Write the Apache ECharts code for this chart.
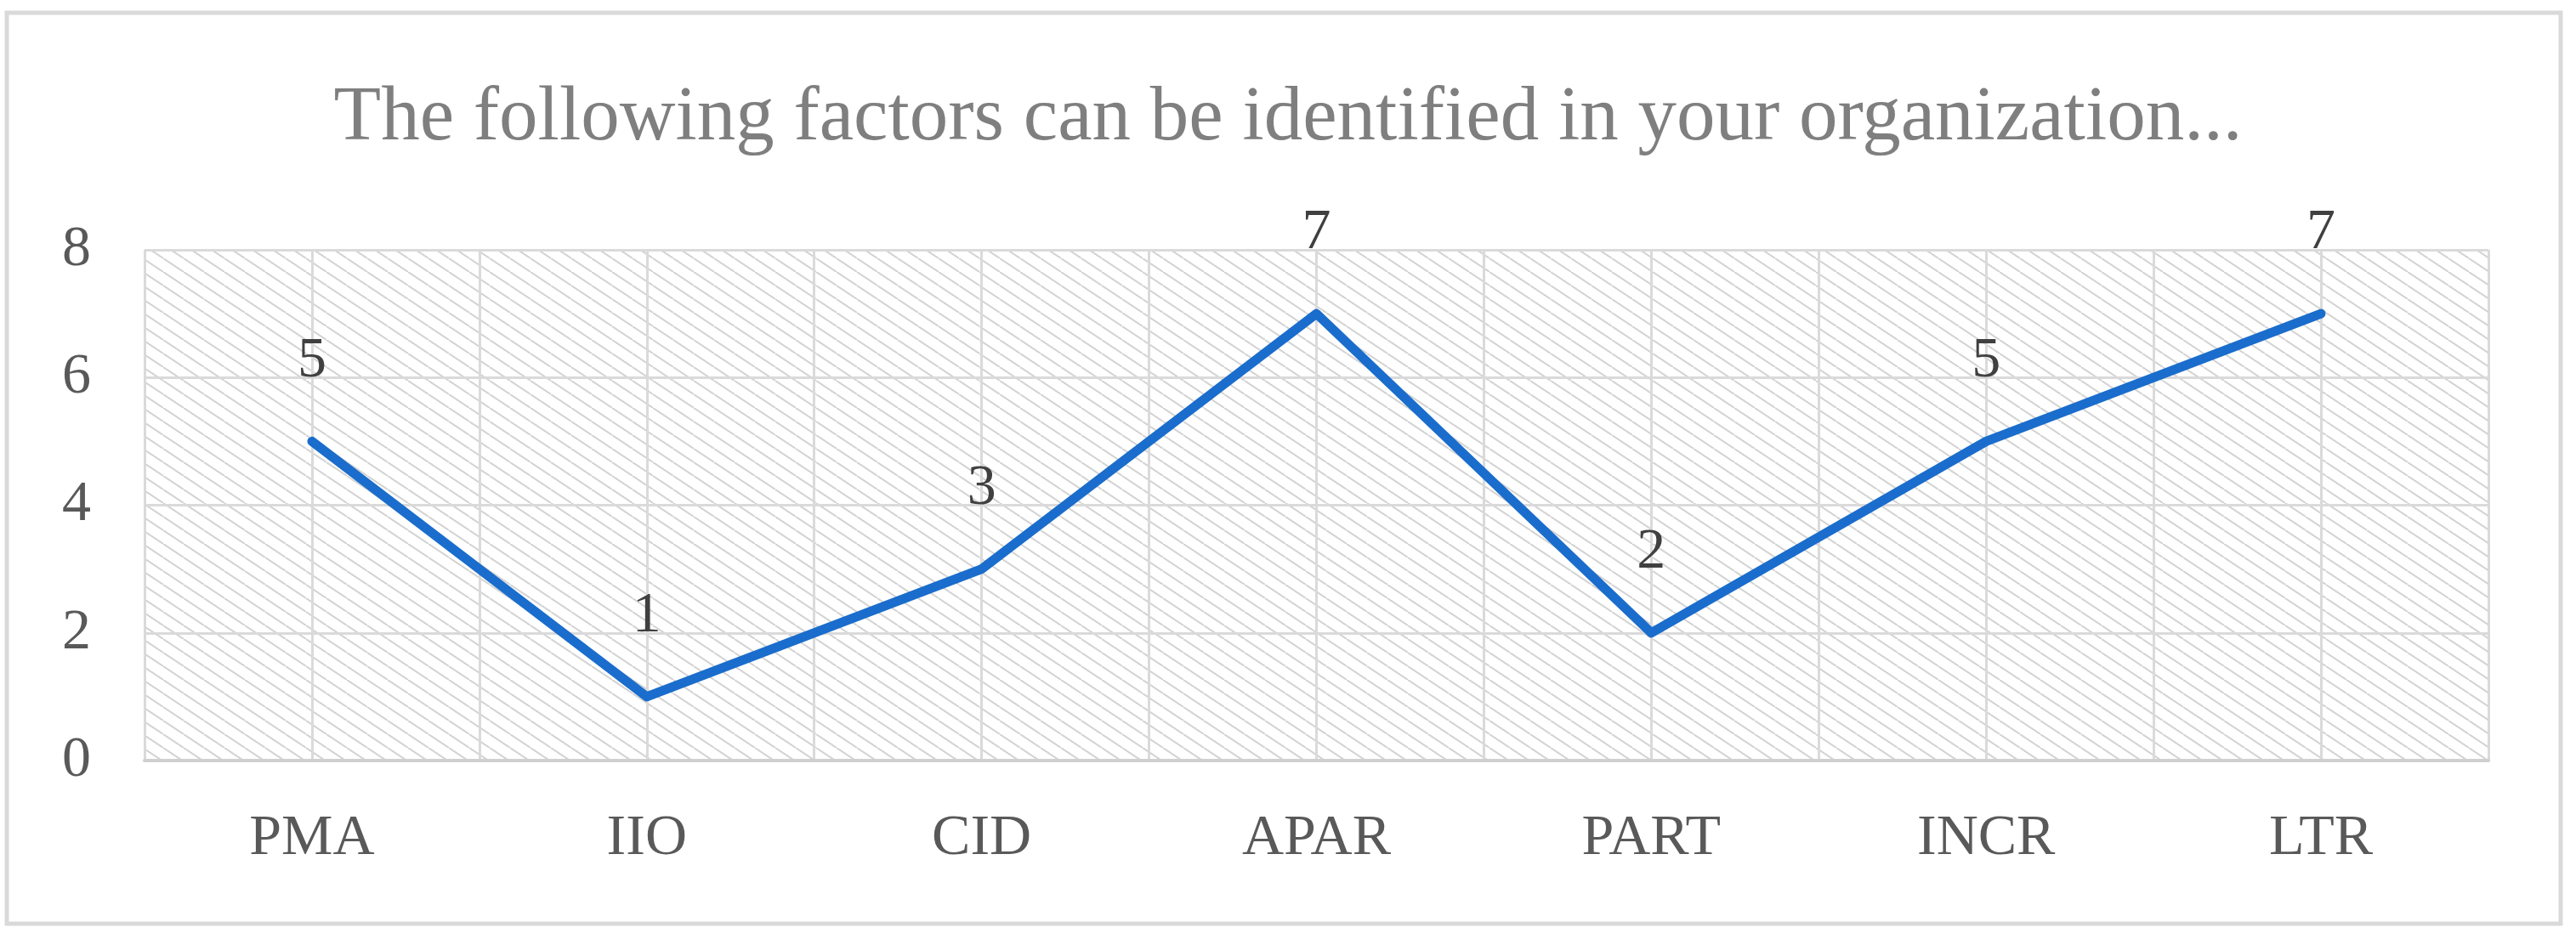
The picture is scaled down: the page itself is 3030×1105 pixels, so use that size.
<!DOCTYPE html>
<html>
<head>
<meta charset="utf-8">
<script src="https://cdn.jsdelivr.net/npm/echarts@6/dist/echarts.min.js"></script>
<style>
  html, body { margin: 0; padding: 0; background: #fff; }
  #chart { width: 3030px; height: 1105px; }
</style>
</head>
<body>
<div id="chart"></div>
<script>
// factors on the x axis
const categories = ['PMA', 'IIO', 'CID', 'APAR', 'PART', 'INCR', 'LTR'];
// number of answers per factor
const counts = [5, 1, 3, 7, 2, 5, 7];
const titleText = 'The following factors can be identified in your organization...';

const serif = '"Liberation Serif", "DejaVu Serif", serif';

// diagonal hatch used as plot background
const hatchTile = () => {
    const c = document.createElement('canvas');
    c.width = 24;
    c.height = 16;
    const g = c.getContext('2d');
    g.fillStyle = '#ffffff';
    g.fillRect(0, 0, 24, 16);
    g.strokeStyle = '#d3d3d3';
    g.lineWidth = 2;
    g.beginPath();
    for (const dx of [-24, 0, 24]) {
        g.moveTo(dx, 0);
        g.lineTo(dx + 24, 16);
    }
    g.stroke();
    return c;
};

const myChart = echarts.init(document.getElementById('chart'));
const option = {
    backgroundColor: '#ffffff',
    animation: false,
    title: {
        text: titleText,
        left: 'center',
        top: 90,
        textStyle: {
            fontFamily: serif,
            fontWeight: 'normal',
            fontSize: 91,
            color: '#7f7f7f'
        }
    },
    graphic: [{
        type: 'rect',
        shape: { x: 8, y: 15, width: 3004, height: 1072 },
        style: { fill: 'none', stroke: '#d9d9d9', lineWidth: 5 },
        silent: true
    }],
    grid: {
        left: 170,
        right: 103,
        top: 294,
        bottom: 210,
        show: true,
        borderWidth: 0,
        backgroundColor: { image: hatchTile(), repeat: 'repeat' }
    },
    xAxis: [
        {
            type: 'category',
            data: categories,
            boundaryGap: true,
            axisLine: { lineStyle: { color: '#d0d0d0', width: 4 } },
            axisTick: { show: false },
            splitLine: { show: false },
            axisLabel: {
                margin: 58,
                fontFamily: serif,
                fontSize: 68,
                color: '#595959'
            }
        },
        {
            // half-category vertical gridlines
            type: 'value',
            min: 0,
            max: 7,
            interval: 0.5,
            position: 'bottom',
            axisLine: { show: false },
            axisTick: { show: false },
            axisLabel: { show: false },
            splitLine: { show: true, lineStyle: { color: '#dadada', width: 3 } }
        }
    ],
    yAxis: {
        type: 'value',
        min: 0,
        max: 8,
        interval: 2,
        axisLine: { show: false },
        axisTick: { show: false },
        axisLabel: {
            margin: 63,
            fontFamily: serif,
            fontSize: 68,
            color: '#595959'
        },
        splitLine: { lineStyle: { color: '#dadada', width: 3 } }
    },
    series: [{
        name: 'count',
        type: 'line',
        xAxisIndex: 0,
        data: counts,
        symbol: 'circle',
        symbolSize: 1,
        itemStyle: { color: 'transparent' },
        lineStyle: { color: '#1a6dcc', width: 11, cap: 'round', join: 'round' },
        label: {
            show: true,
            position: 'top',
            distance: 60,
            fontFamily: serif,
            fontSize: 68,
            color: '#404040'
        },
        z: 5
    }]
};
myChart.setOption(option);
</script>
</body>
</html>
